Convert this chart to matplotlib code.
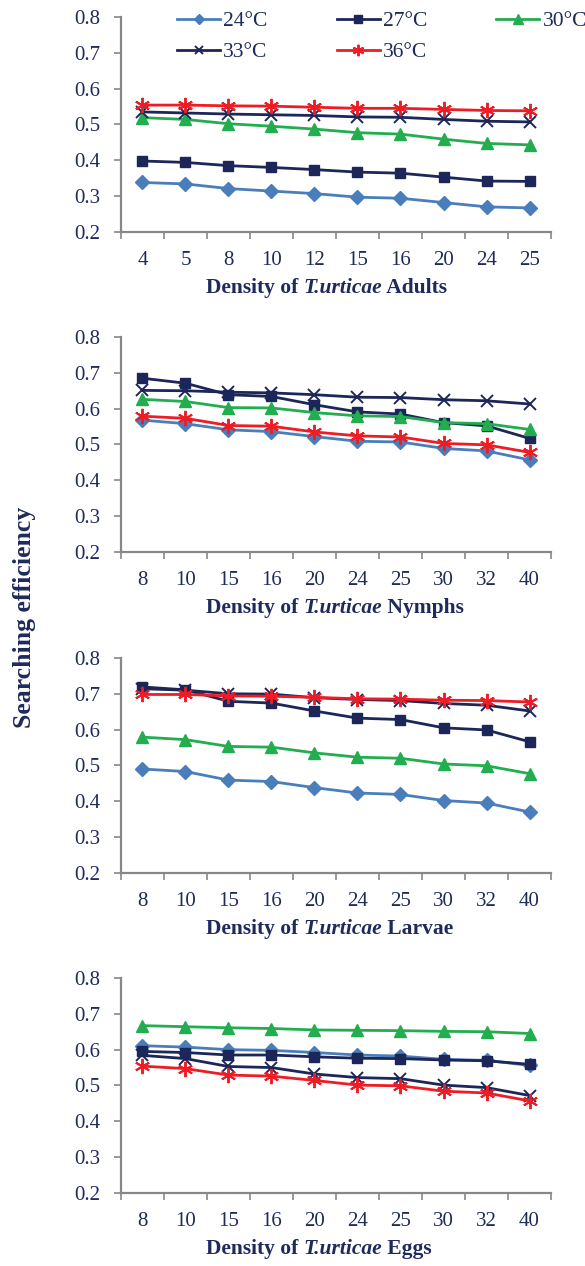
import matplotlib
matplotlib.use("Agg")
import matplotlib.pyplot as plt
from matplotlib.ticker import FixedLocator, NullFormatter
from matplotlib.offsetbox import TextArea, HPacker, AnchoredOffsetbox

plt.rcParams['font.family'] = ['Liberation Serif', 'DejaVu Serif']

temps = ['24°C', '27°C', '30°C', '33°C', '36°C']

adult_density = ['4', '5', '8', '10', '12', '15', '16', '20', '24', '25']
other_density = ['8', '10', '15', '16', '20', '24', '25', '30', '32', '40']

# searching efficiency per temperature, one list per stage
adults = {
    '24°C': [0.338, 0.334, 0.321, 0.314, 0.307, 0.297, 0.294, 0.282, 0.270, 0.267],
    '27°C': [0.398, 0.394, 0.385, 0.380, 0.374, 0.367, 0.364, 0.353, 0.342, 0.341],
    '30°C': [0.519, 0.514, 0.502, 0.495, 0.487, 0.477, 0.473, 0.459, 0.447, 0.443],
    '33°C': [0.535, 0.532, 0.529, 0.527, 0.525, 0.521, 0.520, 0.514, 0.509, 0.507],
    '36°C': [0.554, 0.554, 0.552, 0.551, 0.548, 0.545, 0.545, 0.542, 0.539, 0.538],
}
nymphs = {
    '24°C': [0.568, 0.558, 0.541, 0.536, 0.522, 0.509, 0.507, 0.489, 0.482, 0.457],
    '27°C': [0.685, 0.671, 0.639, 0.634, 0.611, 0.591, 0.585, 0.561, 0.552, 0.517],
    '30°C': [0.626, 0.620, 0.603, 0.602, 0.589, 0.580, 0.578, 0.561, 0.558, 0.542],
    '33°C': [0.651, 0.650, 0.646, 0.644, 0.639, 0.632, 0.631, 0.625, 0.622, 0.613],
    '36°C': [0.579, 0.573, 0.553, 0.551, 0.535, 0.524, 0.521, 0.503, 0.499, 0.478],
}
larvae = {
    '24°C': [0.490, 0.483, 0.459, 0.455, 0.438, 0.423, 0.419, 0.402, 0.395, 0.370],
    '27°C': [0.719, 0.711, 0.679, 0.674, 0.652, 0.632, 0.628, 0.605, 0.599, 0.566],
    '30°C': [0.579, 0.572, 0.553, 0.551, 0.535, 0.523, 0.520, 0.504, 0.499, 0.477],
    '33°C': [0.714, 0.710, 0.700, 0.699, 0.689, 0.684, 0.681, 0.673, 0.668, 0.652],
    '36°C': [0.698, 0.698, 0.694, 0.693, 0.690, 0.686, 0.685, 0.682, 0.681, 0.677],
}
eggs = {
    '24°C': [0.611, 0.607, 0.600, 0.598, 0.592, 0.585, 0.582, 0.573, 0.570, 0.556],
    '27°C': [0.595, 0.592, 0.585, 0.585, 0.580, 0.576, 0.575, 0.571, 0.569, 0.559],
    '30°C': [0.667, 0.664, 0.661, 0.659, 0.655, 0.654, 0.653, 0.651, 0.650, 0.645],
    '33°C': [0.584, 0.575, 0.553, 0.550, 0.532, 0.522, 0.519, 0.501, 0.494, 0.472],
    '36°C': [0.554, 0.547, 0.529, 0.526, 0.514, 0.501, 0.499, 0.484, 0.479, 0.457],
}

stages = [
    (adults, adult_density, 'Adults'),
    (nymphs, other_density, 'Nymphs'),
    (larvae, other_density, 'Larvae'),
    (eggs, other_density, 'Eggs'),
]

text_color = '#1F2A5C'
axis_color = '#878787'
styles = {
    '24°C': dict(color='#4A7EBB', marker='D', markersize=7),
    '27°C': dict(color='#1C2658', marker='s', markersize=7.5),
    '30°C': dict(color='#22AD4E', marker='^', markersize=9),
    '33°C': dict(color='#1C2658', marker='x', markersize=8, markeredgewidth=1.4),
    '36°C': dict(color='#EE1D25', marker=(6, 2, 0), markersize=11, markeredgewidth=1.4),
}

fig = plt.figure(figsize=(5.85, 12.66), dpi=100)

# axes rectangles in figure fraction
tops = [0.9866, 0.7338, 0.4803, 0.2275]
height = 0.1698
left, width = 0.2068, 0.7351

label_font = dict(fontsize=15.5, fontweight='bold', color=text_color)

axes = []
for (data, density, stage), top in zip(stages, tops):
    ax = fig.add_axes([left, top - height, width, height])
    x = list(range(len(density)))
    for t in temps:
        ax.plot(x, data[t], linewidth=2.0, label=t, **styles[t])

    ax.set_xlim(-0.5, len(density) - 0.5)
    ax.set_ylim(0.2, 0.8)
    ax.set_yticks([0.2, 0.3, 0.4, 0.5, 0.6, 0.7, 0.8])
    ax.set_yticklabels(['0.2', '0.3', '0.4', '0.5', '0.6', '0.7', '0.8'])
    ax.set_xticks(x)
    ax.set_xticklabels(density)
    ax.xaxis.set_minor_locator(FixedLocator([i - 0.5 for i in range(len(density) + 1)]))
    ax.xaxis.set_minor_formatter(NullFormatter())

    ax.tick_params(axis='x', which='major', length=0, pad=14, labelsize=15, labelcolor=text_color)
    ax.tick_params(axis='x', which='minor', length=5, width=1.2, color=axis_color)
    ax.tick_params(axis='y', which='major', length=5, width=1.2, color=axis_color,
                   labelsize=15, labelcolor=text_color, pad=10)

    for side in ['top', 'right']:
        ax.spines[side].set_visible(False)
    for side in ['left', 'bottom']:
        ax.spines[side].set_color(axis_color)
        ax.spines[side].set_linewidth(1.6)

    # x label: "Density of T.urticae <stage>" with the species in italics
    parts = [
        TextArea('Density of ', textprops=label_font),
        TextArea('T.urticae', textprops=dict(label_font, fontstyle='italic')),
        TextArea(' ' + stage, textprops=label_font),
    ]
    box = HPacker(children=parts, align='baseline', pad=0, sep=0)
    anchored = AnchoredOffsetbox(loc='upper left', child=box, pad=0, frameon=False,
                                 bbox_to_anchor=(0.198, -0.215), bbox_transform=ax.transAxes,
                                 borderpad=0)
    ax.add_artist(anchored)
    axes.append(ax)

fig.text(0.042, 0.512, 'Searching efficiency', rotation=90, ha='center', va='center',
         fontsize=18.5, fontweight='bold', color=text_color)

handles, labels = axes[0].get_legend_handles_labels()
order = [0, 3, 1, 4, 2]  # fill legend row by row: 24 27 30 / 33 36
fig.legend([handles[i] for i in order], [labels[i] for i in order], ncol=3,
           loc='upper left', bbox_to_anchor=(0.3026, 0.991), borderaxespad=0,
           frameon=False, fontsize=15.5, handlelength=2.0, handletextpad=0.15,
           columnspacing=3.2, labelspacing=0.5, borderpad=0, markerscale=0.75,
           labelcolor=text_color)

fig.savefig('out.png', dpi=100)
